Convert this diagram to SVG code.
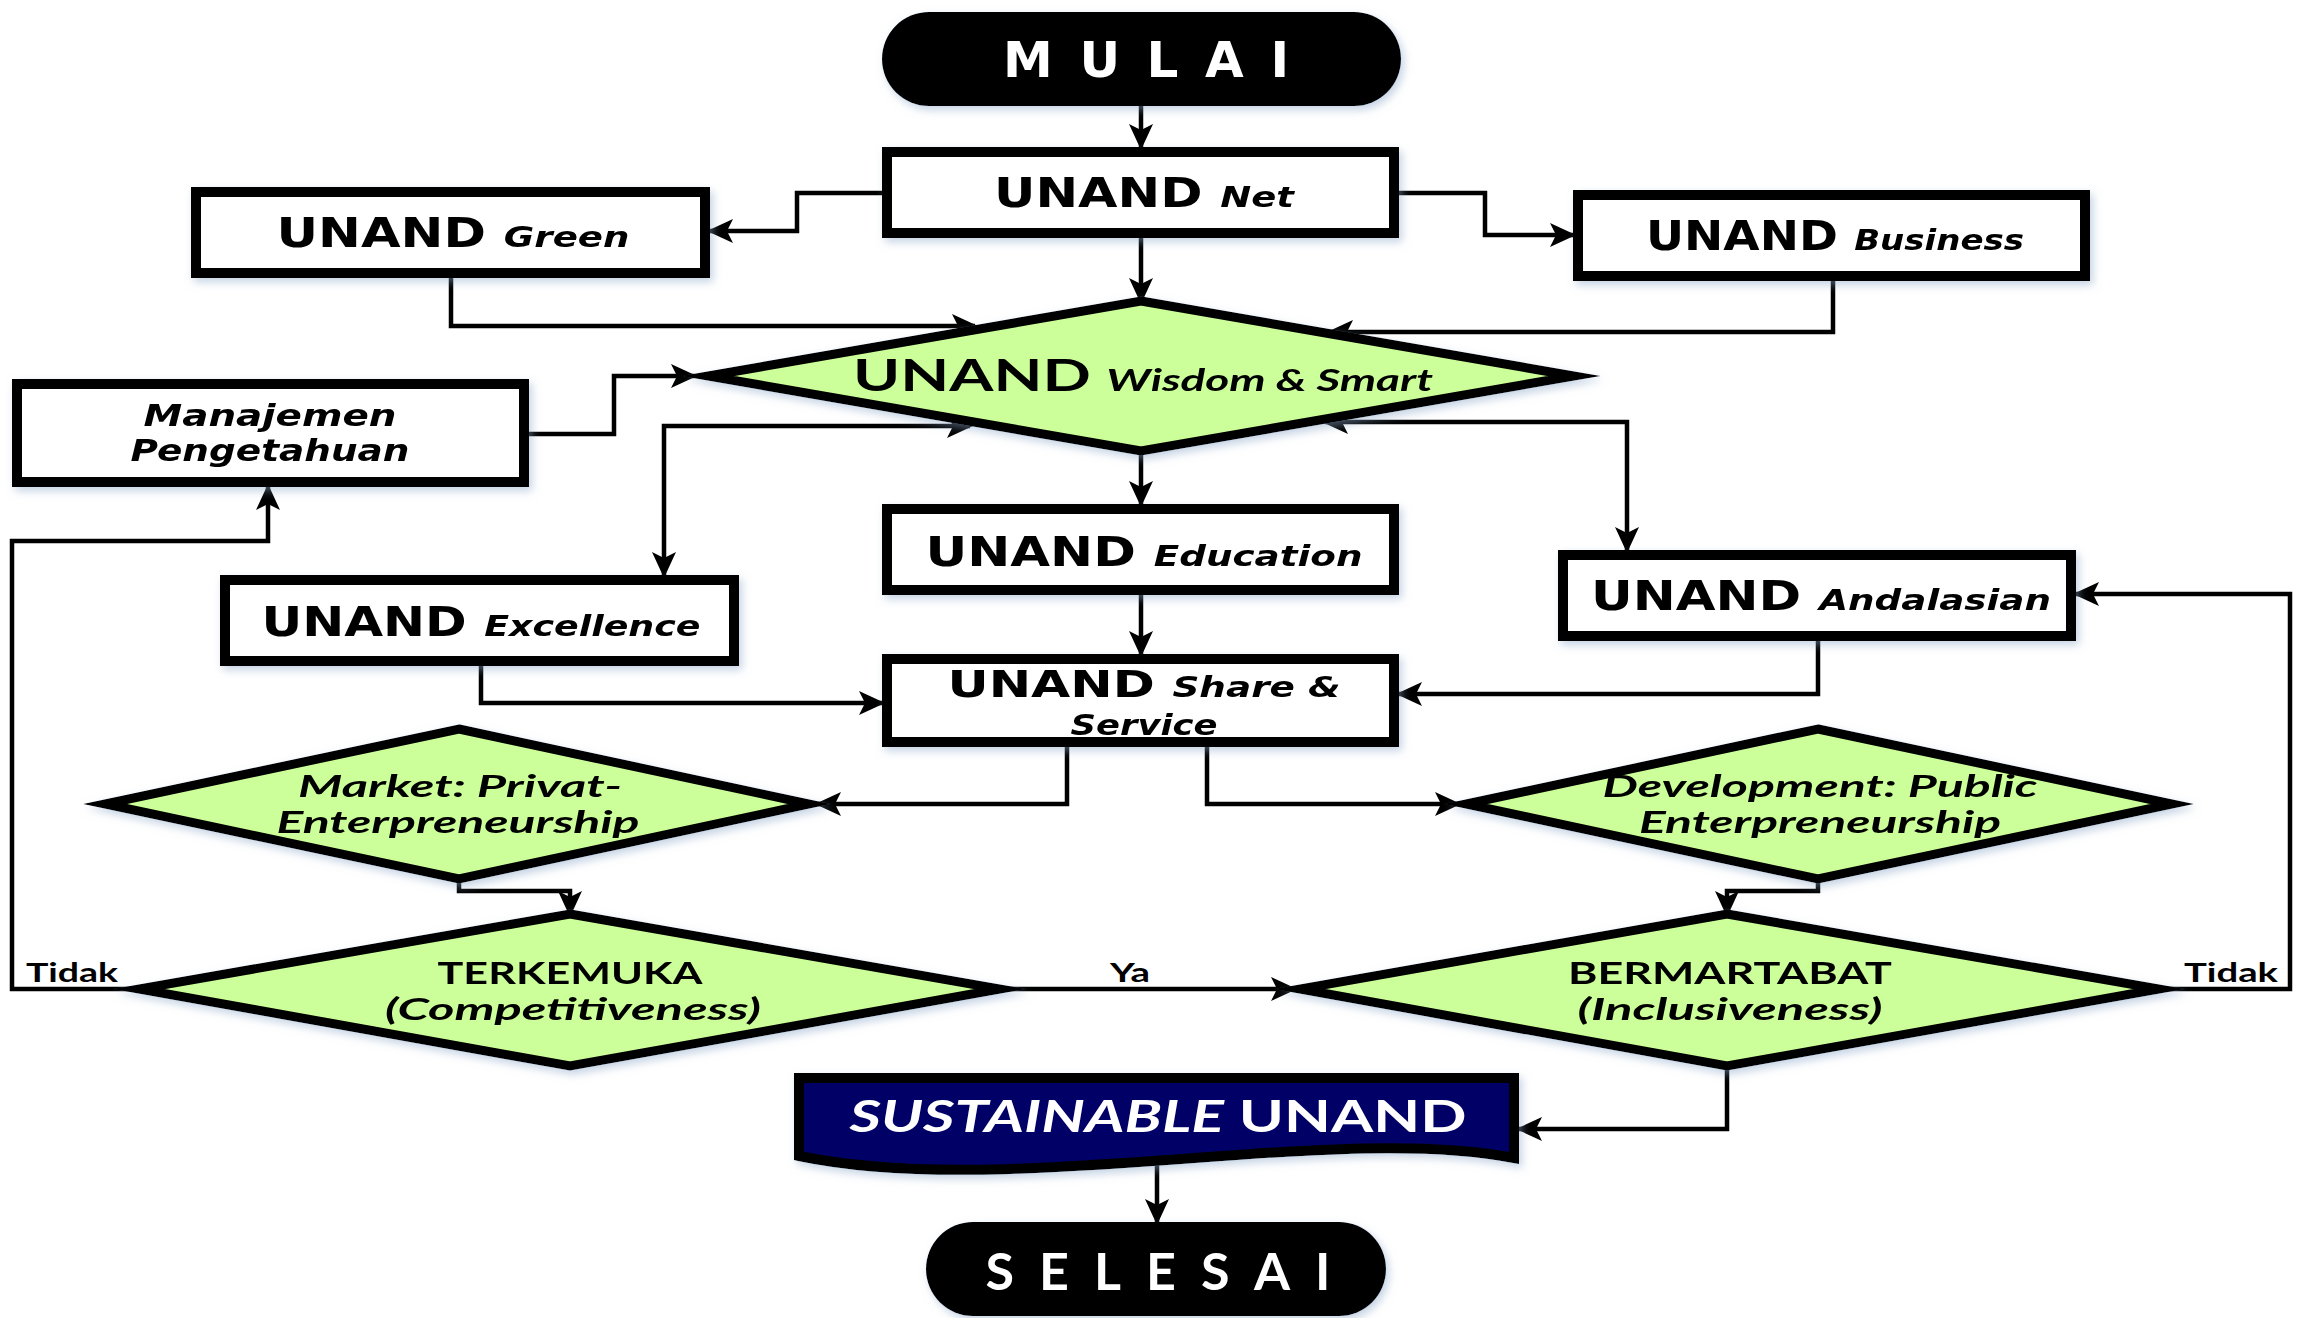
<svg xmlns="http://www.w3.org/2000/svg" width="2305" height="1318" viewBox="0 0 2305 1318">
<style>
.box{fill:#fff;stroke:#000;stroke-width:10}
.dia{fill:#ccff99;stroke:#000;stroke-width:9;stroke-linejoin:miter;stroke-miterlimit:10}
.pill{fill:#000}
.con{fill:none;stroke:#000;stroke-width:4.5;marker-end:url(#ah)}
.bi{marker-start:url(#ah)}
.bt{font-family:"DejaVu Sans",Verdana,sans-serif;font-weight:bold;fill:#000}
.it{font-style:italic}
.cal{font-family:Lato,"Open Sans",sans-serif;font-weight:bold;fill:#000}
.w{fill:#fff}
.lbl{font-family:Lato,"Open Sans",sans-serif;font-weight:bold;font-size:27px;fill:#000}
</style>
<defs>
<marker id="ah" viewBox="0 0 26 24" refX="23" refY="12" markerWidth="26" markerHeight="24" markerUnits="userSpaceOnUse" orient="auto-start-reverse">
<path d="M0,0 L26,12 L0,24 L6,12 z" fill="#000"/>
</marker>
<filter id="sh" x="-10%" y="-10%" width="130%" height="140%">
<feDropShadow dx="3" dy="4" stdDeviation="4" flood-color="#8aa6c8" flood-opacity="0.5"/>
</filter>
</defs>

<g id="connectors">
<path class="con" d="M1141,106 V147"/>
<path class="con" d="M882,193 H797 V231 H710"/>
<path class="con" d="M1399,193 H1485 V235 H1573"/>
<path class="con" d="M1141,238 V301"/>
<path class="con" d="M451,278 V326 H975"/>
<path class="con" d="M1833,281 V332 H1330"/>
<path class="con" d="M529,434 H614 V376 H694"/>
<path class="con bi" d="M970,426 H664 V575"/>
<path class="con bi" d="M1325,422 H1627 V550"/>
<path class="con" d="M1141,451 V504"/>
<path class="con" d="M1141,595 V654"/>
<path class="con" d="M481,666 V703 H882"/>
<path class="con" d="M1818,641 V694 H1399"/>
<path class="con" d="M1067,747 V804 H818"/>
<path class="con" d="M1207,747 V804 H1458"/>
<path class="con" d="M459,879 V891 H570 V914"/>
<path class="con" d="M1818,879 V891 H1727 V914"/>
<path class="con" d="M1002,989 H1294"/>
<path class="con" d="M137,989 H12 V541 H268 V487"/>
<path class="con" d="M2161,989 H2290 V594 H2076"/>
<path class="con" d="M1727,1066 V1129 H1519"/>
<path class="con" d="M1157,1165 V1222"/>
<text class="lbl" x="72" y="982" text-anchor="middle" textLength="92" lengthAdjust="spacingAndGlyphs">Tidak</text>
<text class="lbl" x="1130" y="982" text-anchor="middle" textLength="40" lengthAdjust="spacingAndGlyphs">Ya</text>
<text class="lbl" x="2231" y="982" text-anchor="middle" textLength="94" lengthAdjust="spacingAndGlyphs">Tidak</text>
</g>

<g id="mulai" filter="url(#sh)">
<rect class="pill" x="882" y="12" width="519" height="94" rx="47"/>
<text class="bt w" x="1146" y="77" font-size="50" text-anchor="middle" textLength="286" lengthAdjust="spacing">MULAI</text>
</g>

<g id="net" filter="url(#sh)">
<rect class="box" x="887" y="152" width="507" height="81"/>
<text class="bt" x="1144" y="207" font-size="40" text-anchor="middle" textLength="300" lengthAdjust="spacingAndGlyphs">UNAND <tspan class="it" font-size="29">Net</tspan></text>
</g>

<g id="green" filter="url(#sh)">
<rect class="box" x="196" y="192" width="509" height="81"/>
<text class="bt" x="453" y="247" font-size="40" text-anchor="middle" textLength="353" lengthAdjust="spacingAndGlyphs">UNAND <tspan class="it" font-size="29">Green</tspan></text>
</g>

<g id="business" filter="url(#sh)">
<rect class="box" x="1578" y="195" width="507" height="81"/>
<text class="bt" x="1835" y="250" font-size="40" text-anchor="middle" textLength="378" lengthAdjust="spacingAndGlyphs">UNAND <tspan class="it" font-size="29">Business</tspan></text>
</g>

<g id="wisdom" filter="url(#sh)">
<polygon class="dia" points="1141,301 1574,376 1141,451 708,376"/>
<text class="cal" x="1143" y="391" font-size="43" text-anchor="middle" textLength="580" lengthAdjust="spacingAndGlyphs">UNAND <tspan class="it" font-size="31">Wisdom &amp; Smart</tspan></text>
</g>

<g id="manajemen" filter="url(#sh)">
<rect class="box" x="17" y="384" width="507" height="98"/>
<text class="bt it" x="270" y="426" font-size="31" text-anchor="middle" textLength="253" lengthAdjust="spacingAndGlyphs">Manajemen</text>
<text class="bt it" x="270" y="461" font-size="31" text-anchor="middle" textLength="279" lengthAdjust="spacingAndGlyphs">Pengetahuan</text>
</g>

<g id="excellence" filter="url(#sh)">
<rect class="box" x="225" y="580" width="509" height="81"/>
<text class="bt" x="481" y="636" font-size="40" text-anchor="middle" textLength="439" lengthAdjust="spacingAndGlyphs">UNAND <tspan class="it" font-size="29">Excellence</tspan></text>
</g>

<g id="education" filter="url(#sh)">
<rect class="box" x="887" y="509" width="507" height="81"/>
<text class="bt" x="1144" y="566" font-size="40" text-anchor="middle" textLength="437" lengthAdjust="spacingAndGlyphs">UNAND <tspan class="it" font-size="29">Education</tspan></text>
</g>

<g id="andalasian" filter="url(#sh)">
<rect class="box" x="1563" y="555" width="508" height="81"/>
<text class="bt" x="1821" y="610" font-size="40" text-anchor="middle" textLength="460" lengthAdjust="spacingAndGlyphs">UNAND <tspan class="it" font-size="29">Andalasian</tspan></text>
</g>

<g id="share" filter="url(#sh)">
<rect class="box" x="887" y="659" width="507" height="83"/>
<text class="bt" x="1144" y="697" font-size="38" text-anchor="middle" textLength="393" lengthAdjust="spacingAndGlyphs">UNAND <tspan class="it" font-size="28">Share &amp;</tspan></text>
<text class="bt it" x="1144" y="735" font-size="28" text-anchor="middle" textLength="147" lengthAdjust="spacingAndGlyphs">Service</text>
</g>

<g id="market" filter="url(#sh)">
<polygon class="dia" points="459,729 809,804 459,879 105,804"/>
<text class="cal it" x="460" y="797" font-size="31" text-anchor="middle" textLength="324" lengthAdjust="spacingAndGlyphs">Market: Privat-</text>
<text class="cal it" x="458" y="833" font-size="31" text-anchor="middle" textLength="363" lengthAdjust="spacingAndGlyphs">Enterpreneurship</text>
</g>

<g id="development" filter="url(#sh)">
<polygon class="dia" points="1818,729 2172,804 1818,879 1466,804"/>
<text class="cal it" x="1820" y="797" font-size="31" text-anchor="middle" textLength="435" lengthAdjust="spacingAndGlyphs">Development: Public</text>
<text class="cal it" x="1820" y="833" font-size="31" text-anchor="middle" textLength="362" lengthAdjust="spacingAndGlyphs">Enterpreneurship</text>
</g>

<g id="terkemuka" filter="url(#sh)">
<polygon class="dia" points="570,914 1000,989 570,1066 139,989"/>
<text class="cal" x="570" y="984" font-size="31" text-anchor="middle" textLength="265" lengthAdjust="spacingAndGlyphs">TERKEMUKA</text>
<text class="cal it" x="573" y="1020" font-size="31" text-anchor="middle" textLength="376" lengthAdjust="spacingAndGlyphs">(Competitiveness)</text>
</g>

<g id="bermartabat" filter="url(#sh)">
<polygon class="dia" points="1727,914 2159,989 1727,1066 1300,989"/>
<text class="cal" x="1730" y="984" font-size="31" text-anchor="middle" textLength="324" lengthAdjust="spacingAndGlyphs">BERMARTABAT</text>
<text class="cal it" x="1730" y="1020" font-size="31" text-anchor="middle" textLength="305" lengthAdjust="spacingAndGlyphs">(Inclusiveness)</text>
</g>

<g id="sustainable" filter="url(#sh)">
<path d="M799,1078 H1514 V1158 C1330,1122 1010,1200 799,1156 Z" fill="#000066" stroke="#000" stroke-width="10"/>
<text class="cal w" x="1158" y="1132" font-size="44" text-anchor="middle" textLength="617" lengthAdjust="spacingAndGlyphs"><tspan class="it">SUSTAINABLE</tspan> UNAND</text>
</g>

<g id="selesai" filter="url(#sh)">
<rect class="pill" x="926" y="1222" width="460" height="94" rx="47"/>
<text class="cal w" x="1158" y="1290" font-size="52" text-anchor="middle" textLength="345" lengthAdjust="spacing">SELESAI</text>
</g>
</svg>
